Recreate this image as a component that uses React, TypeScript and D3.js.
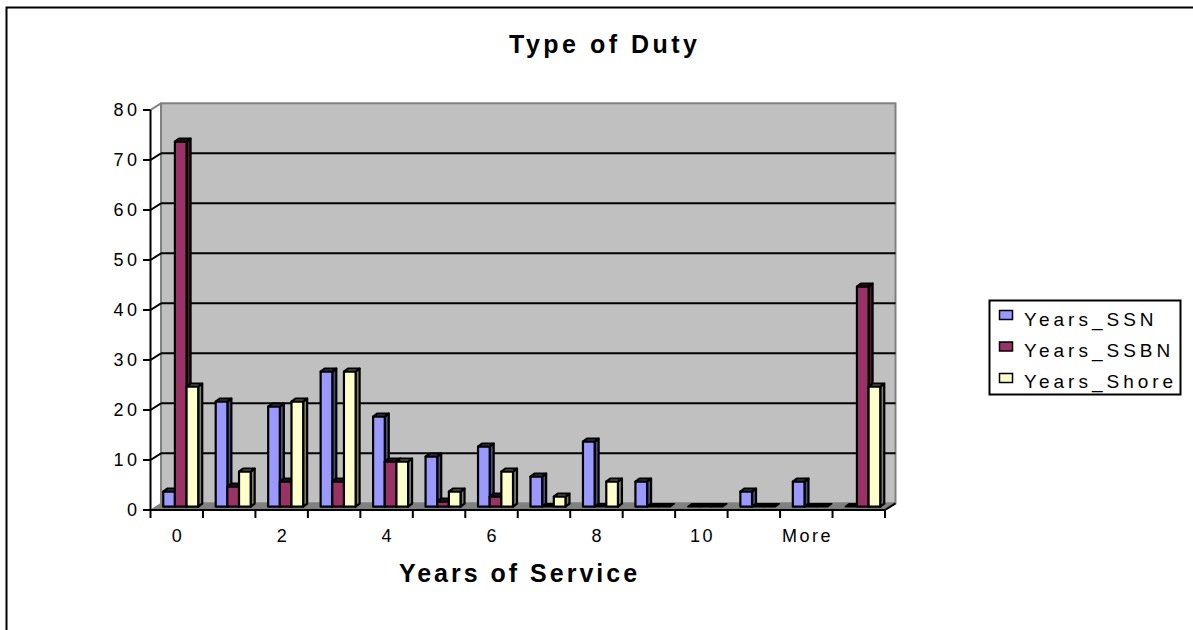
import React from "react";
import * as d3 from "d3";

const categories = ["0", "1", "2", "3", "4", "5", "6", "7", "8", "9", "10", "11", "More", ""];
const seriesNames = ["Years_SSN", "Years_SSBN", "Years_Shore"];
const ssn = [3, 21, 20, 27, 18, 10, 12, 6, 13, 5, 0, 3, 5, 0];
const ssbn = [73, 4, 5, 5, 9, 1, 2, 0, 0, 0, 0, 0, 0, 44];
const shore = [24, 7, 21, 27, 9, 3, 7, 2, 5, 0, 0, 0, 0, 24];
const yTicks = [0, 10, 20, 30, 40, 50, 60, 70, 80];

const frontColors = ["#9999FF", "#993366", "#FFFFCC"];
const sideColors = ["#4D4D80", "#4D1A33", "#808066"];
const topColors = ["#8080E0", "#7A2952", "#E0E0B0"];

const FONT = "'Liberation Sans', Arial, Helvetica, sans-serif";

export default function App() {
  const values = [ssn, ssbn, shore];
  const x0 = 150.5, x1 = 885;
  const x = d3.scaleBand<string>().domain(categories.map((_, i) => String(i))).range([x0, x1]).paddingInner(0).paddingOuter(0);
  const xs = d3.scaleBand<string>().domain(seriesNames).range([0, x.bandwidth()]).paddingInner(0).paddingOuter(0.75);
  const y = d3.scaleLinear().domain([0, 80]).range([510, 110]);
  const DX = 10.5, DY = -6.7; // wall depth
  const BX = 4, BY = -3.3; // bar front plane offset
  const ddx = 4, ddy = -3; // bar depth
  const wallL = x0 + DX, wallR = x1 + DX;
  const yB = (v: number) => y(v) + DY;
  const w = xs.bandwidth();

  const pts = (a: number[][]) => a.map((p) => p.join(",")).join(" ");

  const bars: React.ReactNode[] = [];
  categories.forEach((c, i) => {
    seriesNames.forEach((s, k) => {
      const v = values[k][i];
      const bx = (x(String(i)) as number) + (xs(s) as number) + BX;
      const yBase = y(0) + BY;
      const yTop = y(v) + BY;
      const key = `${i}-${k}`;
      if (v === 0) {
        bars.push(
          <polygon key={key} points={pts([[bx, yBase], [bx + ddx, yBase + ddy], [bx + w + ddx, yBase + ddy], [bx + w, yBase]])}
            fill="#000" stroke="#000" strokeWidth={1.5} strokeLinejoin="round" />
        );
        return;
      }
      bars.push(
        <g key={key} stroke="#000" strokeWidth={2.2} strokeLinejoin="round">
          <polygon points={pts([[bx + w, yBase], [bx + w + ddx, yBase + ddy], [bx + w + ddx, yTop + ddy], [bx + w, yTop]])} fill={sideColors[k]} />
          <polygon points={pts([[bx, yTop], [bx + ddx, yTop + ddy], [bx + w + ddx, yTop + ddy], [bx + w, yTop]])} fill={topColors[k]} />
          <rect x={bx} y={yTop} width={w} height={yBase - yTop} fill={frontColors[k]} />
        </g>
      );
    });
  });

  const lsY = 3.5;
  const lsX = 2.5;
  const lsLeg = 4;

  return (
    <svg width={1193} height={630} style={{ position: "absolute", left: 0, top: 0, background: "#fff" }} fontFamily={FONT}>
      <rect x={6.5} y={7.5} width={1300} height={700} fill="#fff" stroke="#000" strokeWidth={2} />
      <text x={603 + 1.75} y={53} textAnchor="middle" fontSize={25} fontWeight="bold" letterSpacing={3.5}>Type of Duty</text>

      {/* floor */}
      <polygon points={pts([[x0, y(0)], [x1, y(0)], [x1 + DX, yB(0)], [x0 + DX, yB(0)]])} fill="#808080" />
      {/* back wall */}
      <rect x={wallL} y={yB(80)} width={wallR - wallL} height={yB(0) - yB(80)} fill="#C0C0C0" stroke="#808080" strokeWidth={2} />
      {/* gridlines */}
      {yTicks.filter((t) => t > 0 && t < 80).map((t) => (
        <g key={t} stroke="#000" strokeWidth={2}>
          <line x1={wallL} x2={wallR} y1={yB(t)} y2={yB(t)} />
          <line x1={x0} x2={wallL} y1={y(t)} y2={yB(t)} />
        </g>
      ))}
      <line x1={x0} x2={wallL} y1={y(80)} y2={yB(80)} stroke="#808080" strokeWidth={2} />
      <line x1={x0} x2={wallL} y1={y(0)} y2={yB(0)} stroke="#808080" strokeWidth={1} />
      <line x1={x1} x2={x1 + DX} y1={y(0)} y2={yB(0)} stroke="#000" strokeWidth={2} />

      {bars}

      {/* y axis */}
      <line x1={x0} x2={x0} y1={y(80)} y2={y(0)} stroke="#000" strokeWidth={2} />
      {yTicks.map((t) => (
        <g key={t}>
          <line x1={143} x2={x0} y1={y(t)} y2={y(t)} stroke="#000" strokeWidth={2} />
          <text x={137 + lsY} y={y(t)} dy="0.36em" textAnchor="end" fontSize={18} letterSpacing={lsY}>{t}</text>
        </g>
      ))}

      {/* x axis */}
      <line x1={x0 - 1} x2={x1} y1={y(0)} y2={y(0)} stroke="#000" strokeWidth={2} />
      {d3.range(categories.length + 1).map((i) => {
        const xx = x0 + i * x.step();
        return <line key={i} x1={xx} x2={xx} y1={y(0)} y2={y(0) + 8} stroke="#000" strokeWidth={2} />;
      })}
      {categories.map((c, i) => (i % 2 === 0 ? (
        <text key={i} x={(x(String(i)) as number) + x.bandwidth() / 2 + lsX / 2} y={541.5} textAnchor="middle" fontSize={18} letterSpacing={lsX}>{c}</text>
      ) : null))}
      <text x={518 + 1.5} y={581.5} textAnchor="middle" fontSize={25} fontWeight="bold" letterSpacing={3}>Years of Service</text>

      {/* legend */}
      <rect x={989.5} y={300.5} width={191} height={94} fill="#fff" stroke="#000" strokeWidth={2} />
      {seriesNames.map((s, k) => (
        <g key={s}>
          <rect x={999.5} y={310.5 + k * 31.5} width={13} height={9} fill={frontColors[k]} stroke="#000" strokeWidth={1.5} />
          <text x={1024} y={326 + k * 31} fontSize={19} letterSpacing={lsLeg}>{s}</text>
        </g>
      ))}
    </svg>
  );
}
